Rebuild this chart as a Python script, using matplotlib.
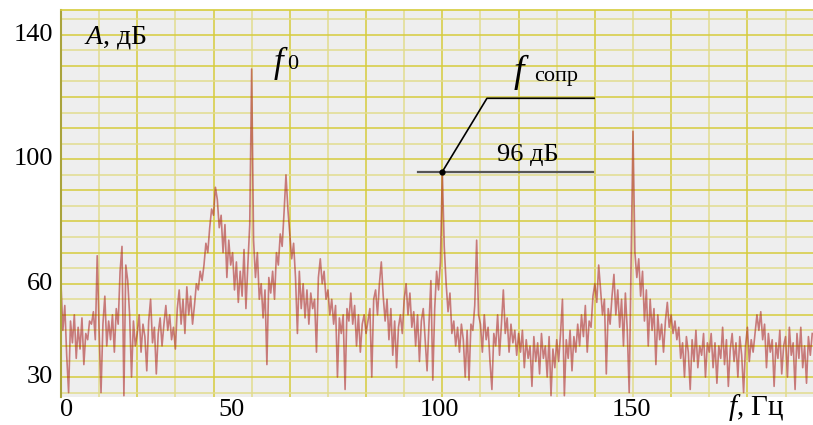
import numpy as np
import matplotlib
matplotlib.use("Agg")
import matplotlib.pyplot as plt
from matplotlib.ticker import MultipleLocator
from matplotlib.transforms import blended_transform_factory

plt.rcParams['font.family'] = ['Liberation Serif', 'DejaVu Serif']
plt.rcParams['mathtext.fontset'] = 'custom'
plt.rcParams['mathtext.rm'] = 'Liberation Serif'
plt.rcParams['mathtext.it'] = 'Liberation Serif:italic'

# spectrum amplitude, dB, every 0.5 Hz
amp = [
    60, 45, 53, 37, 25, 48, 41, 50, 36, 46, 39, 49, 34, 44, 42, 48, 47, 51, 42, 69,   # 0-10
    45, 25, 47, 56, 40, 48, 42, 50, 38, 52, 47, 64, 72, 24, 66, 61, 50, 30, 48, 40,   # 10-20
    44, 50, 38, 47, 43, 32, 48, 55, 41, 46, 31, 44, 49, 40, 47, 53, 45, 50, 42, 46,   # 20-30
    39, 52, 58, 47, 55, 44, 59, 50, 56, 47, 53, 60, 58, 64, 61, 66, 73, 70, 78, 84,   # 30-40
    82, 91, 87, 78, 82, 70, 79, 62, 74, 66, 70, 58, 67, 54, 64, 56, 71, 52, 66, 79,   # 40-50
    129, 74, 62, 70, 55, 60, 49, 58, 34, 62, 57, 64, 55, 70, 66, 76, 72, 83, 95, 84,  # 50-60
    76, 68, 73, 62, 44, 64, 52, 60, 49, 58, 47, 57, 52, 55, 38, 62, 68, 60, 64, 55,   # 60-70
    58, 50, 55, 47, 53, 30, 49, 44, 50, 26, 52, 48, 57, 47, 53, 40, 50, 38, 47, 50,   # 70-80
    44, 48, 52, 30, 55, 58, 50, 60, 67, 56, 48, 55, 42, 52, 37, 48, 33, 46, 50, 44,   # 80-90
    55, 60, 50, 57, 46, 51, 40, 50, 35, 48, 52, 42, 32, 47, 61, 29, 52, 64, 58, 67,   # 90-100
    96, 72, 60, 51, 57, 44, 48, 40, 46, 38, 47, 42, 30, 45, 29, 47, 45, 53, 74, 50,   # 100-110
    47, 38, 50, 42, 46, 35, 26, 44, 40, 50, 37, 47, 58, 44, 49, 38, 47, 41, 45, 37,   # 110-120
    44, 38, 45, 33, 42, 36, 40, 27, 43, 35, 41, 31, 44, 36, 40, 30, 43, 24, 39, 33,   # 120-130
    42, 35, 44, 55, 24, 42, 36, 45, 32, 43, 38, 47, 40, 50, 43, 53, 38, 48, 46, 56,   # 130-140
    60, 54, 66, 58, 50, 55, 31, 52, 47, 56, 63, 50, 58, 46, 55, 40, 57, 45, 25, 68,   # 140-150
    109, 70, 62, 68, 56, 64, 48, 58, 40, 55, 45, 52, 34, 50, 42, 47, 38, 48, 54, 46,  # 150-160
    50, 44, 48, 42, 46, 36, 41, 30, 43, 38, 26, 42, 35, 45, 33, 40, 37, 44, 30, 41,   # 160-170
    38, 44, 33, 41, 28, 40, 36, 46, 34, 42, 27, 39, 44, 35, 41, 30, 43, 37, 25, 40,   # 170-180
    46, 35, 42, 38, 44, 50, 45, 51, 42, 47, 33, 44, 38, 42, 27, 41, 36, 45, 31, 40,   # 180-190
    43, 30, 46, 37, 41, 26, 44, 36, 46, 33, 40, 28, 43, 37, 44,                       # 190-197
]
freq = np.arange(len(amp)) * 0.5

y_labels = [140, 100, 60, 30]
x_labels = ['0', '50', '100', '150']
x_label_pos = [1.4, 44.7, 99.3, 149.7]

fig = plt.figure(figsize=(8.13, 4.25), dpi=100)
ax = fig.add_axes([0.075, 0.066, 0.925, 0.9106])
ax.set_facecolor('#eeeeee')

ax.set_xlim(0, 197.2)
ax.set_ylim(23.6, 148)

ax.xaxis.set_major_locator(MultipleLocator(20))
ax.xaxis.set_minor_locator(MultipleLocator(10))
ax.yaxis.set_major_locator(MultipleLocator(10))
ax.yaxis.set_minor_locator(MultipleLocator(5))
ax.grid(which='major', color='#d6cc3c', lw=1.1)
ax.grid(which='minor', color='#e2dc8e', lw=1.1)
ax.set_axisbelow(True)
ax.tick_params(which='both', length=0, labelbottom=False, labelleft=False)

for s in ['right', 'bottom']:
    ax.spines[s].set_visible(False)
ax.spines['left'].set_color('#aaa43c')
ax.spines['left'].set_linewidth(1.5)
ax.spines['top'].set_color('#d6cc3c')
ax.spines['top'].set_linewidth(1.2)

ax.plot(freq, amp, color='#a81c1c', alpha=0.55, lw=1.2)

# labels
ty = blended_transform_factory(ax.transAxes, ax.transData)
for v in y_labels:
    ax.text(-0.011, v, str(v), transform=ty, ha='right', va='center', fontsize=19)
tx = blended_transform_factory(ax.transData, ax.transAxes)
for p, lab in zip(x_label_pos, x_labels):
    ax.text(p, -0.035, lab, transform=tx, ha='center', va='center', fontsize=19, clip_on=False)
ax.text(175, -0.028, '$f$, Гц', transform=tx, ha='left', va='center', fontsize=21, clip_on=False)

ax.text(6.0, 139.3, '$A$, дБ', ha='left', va='center', fontsize=20)
ax.text(55.5, 131, '$f$', ha='left', va='center', fontsize=25)
ax.text(59.3, 130.5, '0', ha='left', va='center', fontsize=16)
ax.text(118.5, 128, '$f$', ha='left', va='center', fontsize=27)
ax.text(124.2, 126.5, 'сопр', ha='left', va='center', fontsize=16)

# leader to the 96 dB peak
ax.plot([100, 111.7, 139.8], [96, 119.6, 119.6], color='black', lw=1.2)
ax.plot([93.6, 139.5], [96, 96], color='#555555', lw=1.6)
ax.plot([100], [96], 'o', color='black', ms=3.5)
ax.text(114.3, 101.3, '96 дБ', ha='left', va='center', fontsize=19)

fig.savefig('out.png', dpi=100)
